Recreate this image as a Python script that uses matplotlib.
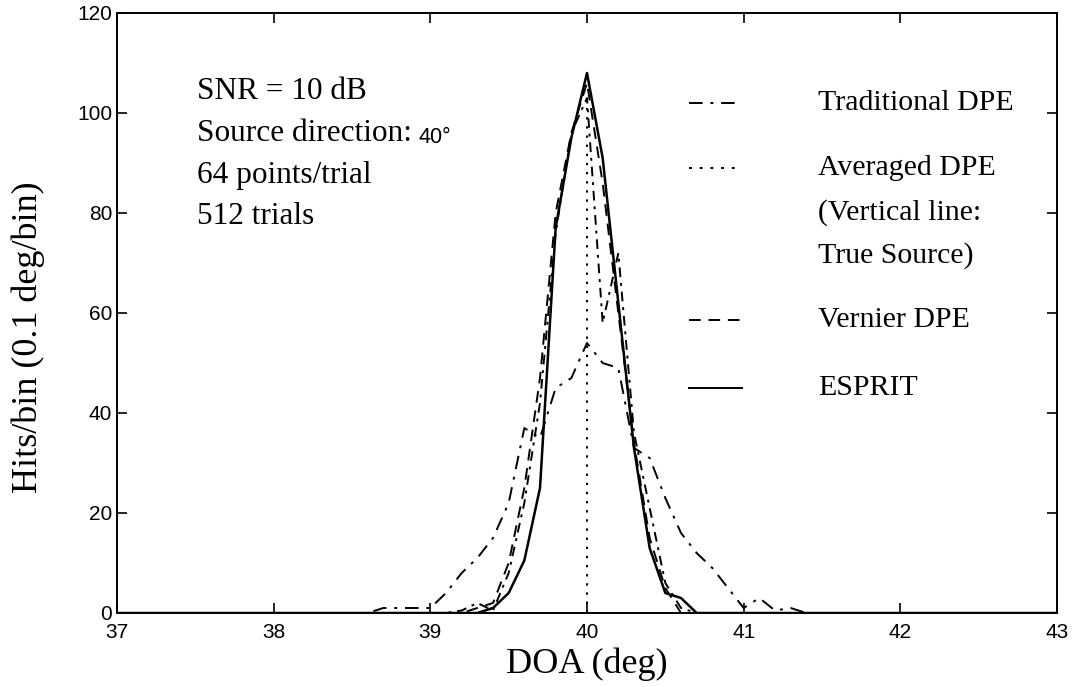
import matplotlib
matplotlib.use("Agg")
import matplotlib.pyplot as plt

# histogramas de DOA, bins de 0.1 grados
trad_doa = [37.0, 38.6, 38.7, 38.8, 38.9, 39.0, 39.1, 39.2, 39.3, 39.4, 39.5, 39.6, 39.7,
            39.8, 39.9, 40.0, 40.1, 40.2, 40.3, 40.4, 40.5, 40.6, 40.7, 40.8, 40.9,
            41.0, 41.1, 41.2, 41.3, 41.4, 43.0]
trad_hits = [0, 0, 1, 1, 1, 1, 4, 8, 11, 15, 22, 37, 35,
             45, 47, 54, 50, 49, 33, 31, 23, 16, 12, 9, 5,
             1, 3, 0.5, 1, 0, 0]

avg_doa = [37.0, 39.1, 39.2, 39.3, 39.4, 39.5, 39.6, 39.7, 39.8, 39.9, 40.0,
           40.1, 40.2, 40.3, 40.4, 40.5, 40.6, 40.7, 43.0]
avg_hits = [0, 0, 0.5, 2, 0.5, 8, 22, 42, 76, 96, 103,
            58, 72, 36, 21, 6, 1, 0, 0]

vern_doa = [37.0, 39.2, 39.3, 39.4, 39.5, 39.6, 39.7, 39.8, 39.9, 40.0,
            40.1, 40.2, 40.3, 40.4, 40.5, 40.6, 43.0]
vern_hits = [0, 0, 1, 2, 10, 25, 47, 80, 96, 106,
             86, 60, 34, 15, 5, 0, 0]

esp_doa = [37.0, 39.3, 39.4, 39.5, 39.6, 39.7, 39.8, 39.9, 40.0,
           40.1, 40.2, 40.3, 40.4, 40.5, 40.6, 40.7, 43.0]
esp_hits = [0, 0, 1, 4, 10.5, 25, 77, 95, 108,
            91, 62, 33, 13, 4, 3, 0, 0]

true_doa = [40.0, 40.0]
true_hits = [0, 104]

info = ["SNR = 10 dB", "Source direction:", "64 points/trial", "512 trials"]

serif = "Liberation Serif"
sans = "Liberation Sans"

fig = plt.figure(figsize=(10.73, 6.87), dpi=100)
ax = fig.add_axes([117/1073, 1 - 613/687, 940/1073, 600/687])

ax.plot(trad_doa, trad_hits, color='k', lw=1.4, linestyle=(0, (7, 4, 1.5, 4)))
ax.plot(avg_doa, avg_hits, color='k', lw=1.4, linestyle=(0, (5, 3, 1.5, 3)))
ax.plot(vern_doa, vern_hits, color='k', lw=1.4, linestyle=(0, (6, 4)))
ax.plot(esp_doa, esp_hits, color='k', lw=1.8, linestyle='-')
ax.plot(true_doa, true_hits, color='k', lw=1.4, linestyle=(0, (1.2, 3.5)))

ax.set_xlim(37, 43)
ax.set_ylim(0, 120)
ax.set_xticks(range(37, 44))
ax.set_yticks(range(0, 121, 20))
ax.tick_params(direction='in', length=7, width=1.2, top=True, right=True,
               labelsize=15)
for lab in ax.get_xticklabels() + ax.get_yticklabels():
    lab.set_fontfamily(sans)
ax.tick_params(axis='x', pad=7)
for s in ax.spines.values():
    s.set_linewidth(1.4)

ax.set_xlabel("DOA (deg)", fontfamily=serif, fontsize=26, va='center')
ax.xaxis.set_label_coords(0.5, -0.085)
ax.set_ylabel("Hits/bin (0.1 deg/bin)", fontfamily=serif, fontsize=26, va='center')
ax.yaxis.set_label_coords(-0.094, 0.46)

# texto de condiciones (arriba a la izquierda)
tx = 0.085
ys = [102.8, 94.4, 86.0, 77.8]
txts = []
for t, y in zip(info, ys):
    txts.append(ax.text(tx, y, t, transform=ax.get_yaxis_transform(),
                        fontfamily=serif, fontsize=22.5, va='baseline', ha='left'))
ax.annotate("40\u00b0", xy=(1, 0), xycoords=txts[1], xytext=(5, 0),
            textcoords='offset points', fontfamily=sans, fontsize=15.5,
            va='bottom', ha='left')

# leyenda hecha a mano
x0, x1, xt = 0.6085, 0.665, 0.7457
rows = [("Traditional DPE", 0.850, (0, (7, 4, 1.5, 4))),
        ("Averaged DPE", 0.742, (0, (1.5, 4))),
        ("Vernier DPE", 0.488, (0, (6, 4))),
        ("ESPRIT", 0.375, '-')]
for name, y, ls in rows:
    ax.plot([x0, x1], [y, y], transform=ax.transAxes, color='k', lw=1.4,
            linestyle=ls)
    ax.text(xt, y, name, transform=ax.transAxes, fontfamily=serif,
            fontsize=21.5, va='center', ha='left')
ax.text(xt, 0.668, "(Vertical line:", transform=ax.transAxes, fontfamily=serif,
        fontsize=21.5, va='center', ha='left')
ax.text(xt, 0.595, "True Source)", transform=ax.transAxes, fontfamily=serif,
        fontsize=21.5, va='center', ha='left')

fig.savefig("out.png", dpi=100)
